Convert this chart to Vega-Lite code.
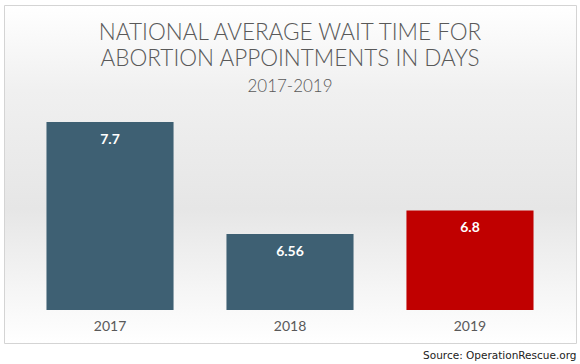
{
  "$schema": "https://vega.github.io/schema/vega-lite/v6.json",
  "autosize": "none",
  "width": 572,
  "height": 338,
  "padding": {"left": 4, "top": 5, "right": 4, "bottom": 21},
  "background": "#ffffff",
  "config": {
    "view": {
      "stroke": "#d4d4d4",
      "strokeWidth": 1,
      "fill": {
        "gradient": "linear",
        "x1": 0, "y1": 0, "x2": 0, "y2": 1,
        "stops": [
          {"offset": 0, "color": "#ffffff"},
          {"offset": 0.25, "color": "#f0f0f0"},
          {"offset": 0.6, "color": "#e6e6e6"},
          {"offset": 0.85, "color": "#f6f6f6"},
          {"offset": 1, "color": "#ffffff"}
        ]
      }
    }
  },
  "title": {
    "text": ["NATIONAL AVERAGE WAIT TIME FOR", "ABORTION APPOINTMENTS IN DAYS"],
    "subtitle": "2017-2019",
    "anchor": "middle",
    "frame": "group",
    "offset": -90,
    "font": "Lato",
    "fontWeight": 300,
    "fontSize": 22.5,
    "lineHeight": 26,
    "color": "#595959",
    "subtitleFont": "Lato",
    "subtitleFontWeight": 300,
    "subtitleFontSize": 17,
    "subtitleColor": "#595959",
    "subtitlePadding": 9
  },
  "data": {
    "values": [
      {"year": "2017", "days": 7.7, "label": "7.7", "highlight": "past"},
      {"year": "2018", "days": 6.56, "label": "6.56", "highlight": "past"},
      {"year": "2019", "days": 6.8, "label": "6.8", "highlight": "current"}
    ]
  },
  "encoding": {
    "x": {
      "field": "year",
      "type": "ordinal",
      "scale": {"paddingInner": 0.294, "paddingOuter": 0.236},
      "axis": {
        "title": "Source: OperationRescue.org",
        "titleFont": "DejaVu Sans",
        "titleFontSize": 10.5,
        "titleFontWeight": "normal",
        "titleColor": "#222222",
        "titleAnchor": "end",
        "titleAlign": "right",
        "titlePadding": 17,
        "offset": -33,
        "domain": false,
        "ticks": false,
        "labelAngle": 0,
        "labelFont": "Lato",
        "labelFontSize": 14,
        "labelColor": "#595959",
        "labelPadding": 9
      }
    }
  },
  "layer": [
    {
      "mark": {"type": "bar"},
      "encoding": {
        "y": {
          "field": "days",
          "type": "quantitative",
          "scale": {"domain": [5.45, 8.892], "nice": false, "zero": false},
          "axis": null
        },
        "y2": {"datum": 5.786},
        "color": {
          "field": "highlight",
          "type": "nominal",
          "scale": {"domain": ["past", "current"], "range": ["#3e6073", "#c00000"]},
          "legend": null
        }
      }
    },
    {
      "mark": {
        "type": "text",
        "color": "#ffffff",
        "font": "Lato",
        "fontWeight": "bold",
        "fontSize": 14,
        "baseline": "middle",
        "dy": 18
      },
      "encoding": {
        "y": {"field": "days", "type": "quantitative"},
        "text": {"field": "label"}
      }
    }
  ]
}
